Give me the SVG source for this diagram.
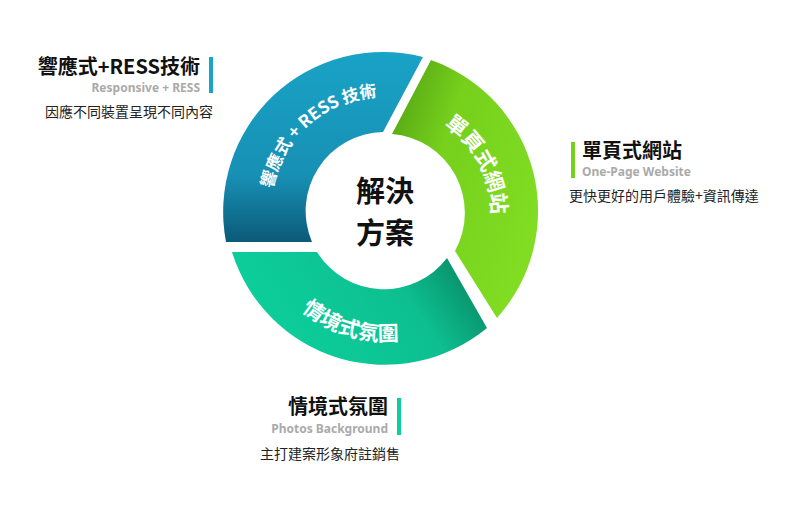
<svg xmlns="http://www.w3.org/2000/svg" width="805" height="508" viewBox="0 0 805 508">
<style>
.t{font-family:"Noto Sans CJK TC","Noto Sans",sans-serif}
.h{font-size:20px;font-weight:bold;fill:#111}
.s{font-size:12px;font-weight:bold;fill:#aaa;font-family:"Noto Sans",sans-serif}
.d{font-size:14px;fill:#222}
.w{fill:#fff;font-weight:bold}
</style>
<defs>
<linearGradient id="gb" x1="0" y1="1" x2="0" y2="0"><stop offset="0" stop-color="#0c5a78"/><stop offset="0.35" stop-color="#1790b4"/><stop offset="1" stop-color="#19a3c6"/></linearGradient>
<linearGradient id="gg" x1="0" y1="0" x2="1" y2="0.6"><stop offset="0" stop-color="#4f9d12"/><stop offset="0.4" stop-color="#76d01c"/><stop offset="1" stop-color="#80dd22"/></linearGradient>
<linearGradient id="gt" x1="1" y1="0" x2="0" y2="0.3"><stop offset="0" stop-color="#077a58"/><stop offset="0.4" stop-color="#0dbf90"/><stop offset="1" stop-color="#0ccf9c"/></linearGradient>
<path id="pb" d="M 272,232 A 115 115 0 0 1 420,102"/>
<path id="pg" d="M 430,118 A 105 105 0 0 1 490,230"/>
<path id="pt" d="M 270,270 A 128 128 0 0 0 455,320"/>
</defs>
<g id="ring">
<g id="seg-blue"><path d="M 226,242 A 160 160 0 0 1 423,57 L 383,132 A 79 79 0 0 0 312,242 Z" fill="url(#gb)"/>
<text class="t w" font-size="17"><textPath href="#pb" startOffset="50%" text-anchor="middle">響應式 + RESS 技術</textPath></text></g>
<g id="seg-green"><path d="M 431,60 A 160 160 0 0 1 497,318 L 455,251 A 79 79 0 0 0 392,134 Z" fill="url(#gg)"/>
<text class="t w" font-size="21"><textPath href="#pg" startOffset="50%" text-anchor="middle">單頁式網站</textPath></text></g>
<g id="seg-teal"><path d="M 487,328 A 160 160 0 0 1 232,252 L 317,252 A 79 79 0 0 0 447,258 Z" fill="url(#gt)"/>
<text class="t w" font-size="21"><textPath href="#pt" startOffset="48%" text-anchor="middle">情境式氛圍</textPath></text></g>
<g id="center"><text class="t" x="385" y="202" font-size="29" font-weight="bold" text-anchor="middle" fill="#111">解決</text>
<text class="t" x="385" y="244" font-size="29" font-weight="bold" text-anchor="middle" fill="#111">方案</text></g>
</g>
<g id="label-blue">
<rect x="209" y="57" width="4" height="36" fill="#19a3c6"/>
<text class="t h" x="200" y="74" text-anchor="end">響應式+RESS技術</text>
<text class="s" x="200" y="92" text-anchor="end">Responsive + RESS</text>
<text class="t d" x="213" y="117" text-anchor="end">因應不同裝置呈現不同內容</text>
</g>
<g id="label-green">
<rect x="571" y="142" width="4" height="36" fill="#76d01c"/>
<text class="t h" x="582" y="158">單頁式網站</text>
<text class="s" x="582" y="176">One-Page Website</text>
<text class="t d" x="569" y="201">更快更好的用戶體驗+資訊傳達</text>
</g>
<g id="label-teal">
<rect x="397" y="398" width="4" height="37" fill="#0ccf9c"/>
<text class="t h" x="388" y="414" text-anchor="end">情境式氛圍</text>
<text class="s" x="388" y="433" text-anchor="end">Photos Background</text>
<text class="t d" x="400" y="459" text-anchor="end">主打建案形象府註銷售</text>
</g>
<g id="connectors"/>
</svg>
